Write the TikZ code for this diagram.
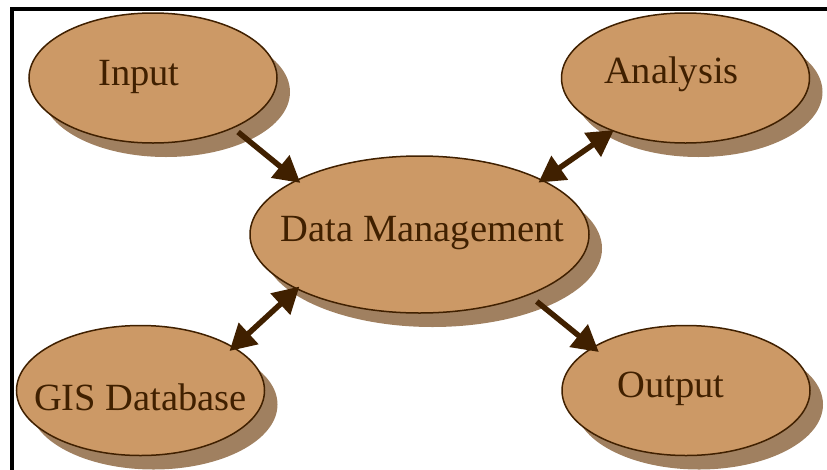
\documentclass[tikz,border=0pt]{standalone}
\usepackage{fontspec}
\setmainfont{Liberation Serif}
\usetikzlibrary{shapes.geometric,shadows,arrows.meta}
\definecolor{bubblefill}{HTML}{CC9966}
\definecolor{bubbleshade}{HTML}{A08060}
\definecolor{inkbrown}{HTML}{402000}
\tikzset{
	bubble/.style={ellipse, draw=inkbrown, line width=1.5pt, fill=bubblefill, inner sep=0pt,
		minimum width=248pt, minimum height=130pt,
		drop shadow={shadow xshift=13pt, shadow yshift=-14pt, fill=bubbleshade, opacity=1}},
	bubbletext/.style={inner sep=0pt, text height=28pt, text depth=9pt, text=inkbrown,
		font=\fontsize{38.5}{40}\selectfont},
	flow/.style={draw=inkbrown, line width=5.5pt, -{Triangle[length=26pt,width=28pt]}},
	twoway/.style={flow, {Triangle[length=26pt,width=28pt]}-{Triangle[length=26pt,width=28pt]}}
}
\begin{document}
\begin{tikzpicture}[x=1pt, y=-1pt]
\useasboundingbox (0,0) rectangle (827,469);
\clip (0,0) rectangle (827,469);
\draw[line width=4pt] (12,480) -- (12,8.5) -- (840,8.5);

\node[bubble, label={[bubbletext, xshift=-14pt, yshift=2.5pt]center:Input}] (input) at (153,78) {};
\node[bubble, label={[bubbletext, xshift=-14pt, yshift=4.5pt]center:Analysis}] (analysis) at (685.5,78) {};
\node[bubble, minimum width=339pt, minimum height=157pt,
	label={[bubbletext, xshift=3pt, yshift=3pt]center:Data Management}] (dm) at (419.5,234.5) {};
\node[bubble, label={[bubbletext, yshift=-10pt]center:GIS Database}] (gis) at (140.5,390.5) {};
\node[bubble, label={[bubbletext, xshift=-15pt, yshift=3pt]center:Output}] (output) at (686,390.5) {};

\draw[flow, shorten <=6pt, shorten >=-5pt] (input.-32) -- (dm.156);
\draw[twoway, shorten <=-5pt, shorten >=-2pt] (dm.24) -- (analysis.216);
\draw[twoway, shorten <=-4pt, shorten >=-6pt] (dm.204) -- (gis.25);
\draw[flow, shorten <=10pt, shorten >=-8pt] (dm.-29) -- (output.155);
\end{tikzpicture}
\end{document}
